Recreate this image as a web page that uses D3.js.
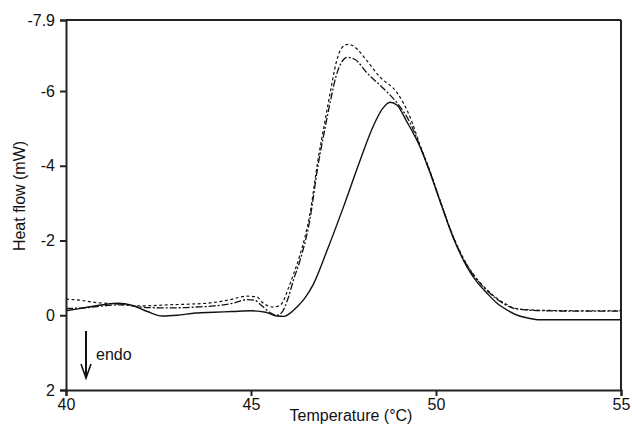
<!DOCTYPE html>
<html>
<head>
<meta charset="utf-8">
<script src="https://cdn.jsdelivr.net/npm/d3@7"></script>
<style>
	body { margin: 0; background: #fff; }
	svg { font-family: "Liberation Sans", Arial, sans-serif; }
</style>
</head>
<body>
<div id="warper"></div>
<script>

// temperature (°C) / heat flow (mW)
var solidT = [40.0, 40.5, 41.0, 41.4, 41.8, 42.2, 42.6, 43.0, 43.5, 44.0, 44.5, 45.0, 45.4, 45.7, 45.9, 46.05,
	46.24, 46.45, 46.68, 47.05, 47.5, 47.95, 48.3, 48.55, 48.76, 48.95, 49.2, 49.57, 49.84, 50.1, 50.46,
	50.84, 51.1, 51.38, 51.65, 51.92, 52.2, 52.46, 52.8, 53.5, 54.5, 55.0];
var solidHF = [-0.12, -0.2, -0.28, -0.32, -0.26, -0.1, 0.02, 0.0, -0.06, -0.08, -0.1, -0.12, -0.08, 0.02, 0.03, -0.05,
	-0.22, -0.45, -0.82, -1.72, -2.9, -4.15, -5.05, -5.52, -5.7, -5.62, -5.2, -4.5, -3.81, -3.08, -2.09,
	-1.29, -0.9, -0.59, -0.32, -0.14, 0.0, 0.07, 0.12, 0.12, 0.12, 0.12];

var shortT = [40.0, 40.4, 40.73, 41.4, 42.0, 42.8, 43.4, 43.9, 44.4, 44.9, 45.16, 45.3, 45.6, 45.75, 45.86, 46.0,
	46.15, 46.32, 46.59, 46.81, 47.0, 47.14, 47.3, 47.45, 47.62, 47.8, 48.1, 48.49, 48.95, 49.3, 49.57,
	49.84, 50.1, 50.46, 50.84, 51.1, 51.38, 51.65, 51.92, 52.08, 52.46, 53.0, 54.0, 55.0];
var shortHF = [-0.43, -0.4, -0.35, -0.3, -0.25, -0.28, -0.3, -0.33, -0.41, -0.51, -0.49, -0.35, -0.22, -0.25, -0.35, -0.7,
	-1.1, -1.6, -2.7, -4.15, -5.2, -5.95, -6.75, -7.15, -7.25, -7.18, -6.85, -6.37, -5.95, -5.3, -4.55,
	-3.85, -3.1, -2.12, -1.35, -0.98, -0.68, -0.45, -0.28, -0.2, -0.15, -0.13, -0.12, -0.12];

var longT = [40.0, 40.5, 41.0, 41.5, 42.0, 42.5, 43.0, 43.5, 44.0, 44.5, 44.9, 45.1, 45.3, 45.5, 45.7, 45.85,
	46.0, 46.15, 46.32, 46.59, 46.81, 47.0, 47.14, 47.3, 47.49, 47.6, 47.8, 48.14, 48.68, 48.95, 49.3,
	49.57, 49.84, 50.1, 50.46, 50.84, 51.1, 51.38, 51.65, 51.92, 52.08, 52.46, 53.0, 54.0, 55.0];
var longHF = [-0.18, -0.2, -0.25, -0.28, -0.22, -0.2, -0.2, -0.22, -0.25, -0.32, -0.42, -0.4, -0.25, -0.08, 0.0, -0.1,
	-0.45, -0.95, -1.45, -2.55, -4.0, -5.0, -5.7, -6.4, -6.83, -6.9, -6.85, -6.48, -5.97, -5.68, -5.15,
	-4.52, -3.83, -3.09, -2.11, -1.33, -0.96, -0.66, -0.43, -0.26, -0.19, -0.14, -0.12, -0.11, -0.11];

var xTicks = [40, 45, 50, 55];
var yTicks = [2, 0, -2, -4, -6, -7.9];

function zipSeries(t, hf) {
	var out = [];
	for (var i = 0; i < t.length; i++) {
		out.push({t: t[i], v: hf[i]});
	}
	return out;
}

function makeChart() {
	var W = 632, H = 426;
	var left = 66, right = 621, top = 20, bottom = 390;

	var svg = d3.select("#warper").append("svg")
		.attr("width", W)
		.attr("height", H);

	var x = d3.scaleLinear().domain([40, 55]).range([left, right]);
	var y = d3.scaleLinear().domain([-7.9, 2]).range([top, bottom]);

	var line = d3.line()
		.x(function(d) { return x(d.t); })
		.y(function(d) { return y(d.v); })
		.curve(d3.curveMonotoneX);

	var series = [
		{data: zipSeries(solidT, solidHF), dash: null, w: 1.4},
		{data: zipSeries(longT, longHF), dash: "7,2,2,2", w: 1.3},
		{data: zipSeries(shortT, shortHF), dash: "3,2.5", w: 1.2}
	];

	svg.selectAll("path.curve")
		.data(series)
		.enter()
		.append("path")
		.attr("class", "curve")
		.attr("d", function(s) { return line(s.data); })
		.attr("fill", "none")
		.attr("stroke", "#111")
		.attr("stroke-width", function(s) { return s.w; })
		.attr("stroke-dasharray", function(s) { return s.dash; });

	// frame lines (top and right)
	svg.append("line")
		.attr("x1", left).attr("x2", right)
		.attr("y1", top).attr("y2", top)
		.attr("stroke", "#222").attr("stroke-width", 2);
	svg.append("line")
		.attr("x1", right).attr("x2", right)
		.attr("y1", top).attr("y2", bottom)
		.attr("stroke", "#222").attr("stroke-width", 2);

	var xAxis = d3.axisBottom(x).tickValues(xTicks).tickSize(6).tickPadding(3).tickFormat(d3.format("d"));
	var yAxis = d3.axisLeft(y).tickValues(yTicks).tickSize(6).tickPadding(5)
		.tickFormat(function(d) { return d == -7.9 ? "-7.9" : String(d); });

	var gx = svg.append("g")
		.attr("transform", "translate(0," + bottom + ")")
		.call(xAxis);
	var gy = svg.append("g")
		.attr("transform", "translate(" + left + ",0)")
		.call(yAxis);

	[gx, gy].forEach(function(g) {
		g.select(".domain").attr("stroke", "#222").attr("stroke-width", 2);
		g.selectAll(".tick line").attr("stroke", "#222").attr("stroke-width", 2);
		g.selectAll(".tick text")
			.attr("fill", "#111")
			.style("font-size", "16px")
			.style("font-family", "Liberation Sans, Arial, sans-serif");
	});

	svg.append("text")
		.attr("x", 351)
		.attr("y", 421)
		.attr("text-anchor", "middle")
		.attr("fill", "#111")
		.style("font-size", "16px")
		.text("Temperature (\u00b0C)");

	svg.append("text")
		.attr("transform", "translate(25,196) rotate(-90)")
		.attr("text-anchor", "middle")
		.attr("fill", "#111")
		.style("font-size", "16px")
		.text("Heat flow (mW)");

	// endo arrow
	svg.append("line")
		.attr("x1", 86).attr("x2", 86)
		.attr("y1", 331).attr("y2", 376)
		.attr("stroke", "#111").attr("stroke-width", 2);
	svg.append("path")
		.attr("d", "M81,364 L86,378 L91,364")
		.attr("fill", "none")
		.attr("stroke", "#111")
		.attr("stroke-width", 1.6);
	svg.append("text")
		.attr("x", 96)
		.attr("y", 360)
		.attr("fill", "#111")
		.style("font-size", "16px")
		.text("endo");
}

makeChart();
</script>
</body>
</html>
